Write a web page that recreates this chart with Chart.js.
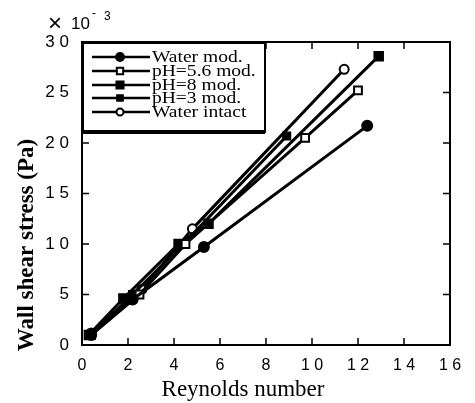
<!DOCTYPE html>
<html>
<head>
<meta charset="utf-8">
<script src="https://cdn.jsdelivr.net/npm/chart.js@4.4.1/dist/chart.umd.min.js"></script>
<style>
  body { margin: 0; background: #fff; }
  #wrap { width: 475px; height: 403px; }
</style>
</head>
<body>
<div id="wrap"><canvas id="shearChart"></canvas></div>
<script>
// series names (legend order)
var seriesNames = ['Water mod.', 'pH=5.6 mod.', 'pH=8 mod.', 'pH=3 mod.', 'Water intact'];

// Reynolds number / wall shear stress (x10^-3 Pa)
var waterModX   = [0.4, 2.2, 5.3, 12.4];
var waterModY   = [0.10, 0.45, 0.97, 2.17];
var ph56X       = [0.4, 2.5, 4.5, 9.7, 12.0];
var ph56Y       = [0.10, 0.50, 1.00, 2.05, 2.52];
var ph8X        = [0.3, 1.8, 4.2, 5.5, 12.9];
var ph8Y        = [0.10, 0.46, 1.00, 1.20, 2.86];
var ph3X        = [0.4, 2.2, 4.4, 8.9];
var ph3Y        = [0.10, 0.50, 1.00, 2.07];
var waterIntX   = [0.4, 2.6, 4.8, 11.4];
var waterIntY   = [0.12, 0.55, 1.15, 2.73];

// tick labels as printed
var xTickLabels = ['0', '2', '4', '6', '8', '1 0', '1 2', '1 4', '1 6'];
var yTickLabels = ['0', '5', '1 0', '1 5', '2 0', '2 5', '3 0'];

var xTitle = 'Reynolds number';
var yTitle = 'Wall shear stress (Pa)';

function pts(xs, ys) {
  return xs.map(function (x, i) { return { x: x, y: ys[i] }; });
}

var markers = [
  { style: 'circle', fill: '#000', r: 5 },
  { style: 'rect', fill: '#fff', r: 5.5 },
  { style: 'rect', fill: '#000', r: 6 },
  { style: 'rect', fill: '#000', r: 5 },
  { style: 'circle', fill: '#fff', r: 4.5 }
];

var seriesData = [
  pts(waterModX, waterModY),
  pts(ph56X, ph56Y),
  pts(ph8X, ph8Y),
  pts(ph3X, ph3Y),
  pts(waterIntX, waterIntY)
];

var datasets = seriesNames.map(function (name, i) {
  return {
    label: name,
    data: seriesData[i],
    borderColor: '#000',
    borderWidth: 3,
    pointStyle: markers[i].style,
    pointRadius: markers[i].r,
    pointBackgroundColor: markers[i].fill,
    pointBorderColor: '#000',
    pointBorderWidth: 2,
    tension: 0
  };
});

var SANS = '"Liberation Sans", Arial, sans-serif';
var SERIF = '"Liberation Serif", "Times New Roman", serif';

// frame, inward ticks, titles, exponent and legend box
var framePlugin = {
  id: 'frame',
  afterDraw: function (chart) {
    var c = chart.ctx, a = chart.chartArea;
    var xs = chart.scales.x, ys = chart.scales.y;
    c.save();
    c.strokeStyle = '#000';
    c.lineWidth = 2;
    c.strokeRect(a.left, a.top, a.right - a.left, a.bottom - a.top);
    c.lineWidth = 1.5;
    c.beginPath();
    xs.ticks.forEach(function (t) {
      var px = xs.getPixelForValue(t.value);
      c.moveTo(px, a.bottom); c.lineTo(px, a.bottom - 7);
      c.moveTo(px, a.top); c.lineTo(px, a.top + 7);
    });
    ys.ticks.forEach(function (t) {
      var py = ys.getPixelForValue(t.value);
      c.moveTo(a.left, py); c.lineTo(a.left + 7, py);
      c.moveTo(a.right, py); c.lineTo(a.right - 7, py);
    });
    c.stroke();

    c.fillStyle = '#000';
    // axis titles
    c.textAlign = 'center';
    c.textBaseline = 'alphabetic';
    c.font = '23px ' + SERIF;
    c.fillText(xTitle, 243, 396);
    c.save();
    c.translate(33, 245);
    c.rotate(-Math.PI / 2);
    c.font = 'bold 23px ' + SERIF;
    c.fillText(yTitle, 0, 0);
    c.restore();

    // x 10^-3
    c.textAlign = 'left';
    c.font = '24px ' + SANS;
    c.fillText('\u00d7', 48, 31);
    c.font = '17px ' + SANS;
    c.fillText('10', 71, 29);
    c.font = '12px ' + SANS;
    c.fillText('-', 92, 17);
    c.fillText('3', 104, 20);

    // legend
    var lx = a.left + 1, ly = a.top + 1, lw = 182, lh = 89;
    c.fillStyle = '#fff';
    c.fillRect(lx, ly, lw, lh);
    c.lineWidth = 2;
    c.strokeStyle = '#000';
    c.strokeRect(lx, ly, lw, lh);
    c.lineWidth = 4;
    c.beginPath();
    c.moveTo(lx, ly + lh); c.lineTo(lx + lw, ly + lh);
    c.stroke();
    var rows = [57, 71, 85, 98, 112];
    chart.data.datasets.forEach(function (ds, i) {
      var y = rows[i];
      c.lineWidth = 2.5;
      c.strokeStyle = '#000';
      c.beginPath();
      c.moveTo(92, y); c.lineTo(150, y);
      c.stroke();
      c.fillStyle = ds.pointBackgroundColor;
      c.lineWidth = 2;
      Chart.helpers.drawPoint(c, {
        pointStyle: ds.pointStyle,
        radius: ds.pointRadius - 1,
        borderWidth: 2,
        rotation: 0
      }, 120, y);
      c.fillStyle = '#000';
      c.font = '16px ' + SERIF;
      c.textBaseline = 'middle';
      c.save();
      c.translate(152, y + 1);
      c.scale(1.22, 1);
      c.fillText(ds.label, 0, 0);
      c.restore();
    });
    c.restore();
  }
};

var ctx = document.getElementById('shearChart');
new Chart(ctx, {
  type: 'line',
  data: { datasets: datasets },
  options: {
    responsive: true,
    maintainAspectRatio: false,
    animation: false,
    layout: { padding: { top: 42, right: 25, left: 0, bottom: 0 } },
    plugins: { legend: { display: false }, tooltip: { enabled: false } },
    scales: {
      x: {
        type: 'linear',
        min: 0, max: 16,
        afterFit: function (s) { s.height = 58; },
        ticks: {
          stepSize: 2,
          color: '#000',
          font: { family: SANS, size: 16 },
          padding: 3,
          maxRotation: 0,
          callback: function (v) { return xTickLabels[Math.round(v / 2)]; }
        },
        grid: { display: false },
        border: { display: false }
      },
      y: {
        type: 'linear',
        min: 0, max: 3,
        afterFit: function (s) { s.width = 82; },
        ticks: {
          stepSize: 0.5,
          color: '#000',
          font: { family: SANS, size: 17 },
          padding: 5,
          callback: function (v) { return yTickLabels[Math.round(v * 2)]; }
        },
        grid: { display: false },
        border: { display: false }
      }
    }
  },
  plugins: [framePlugin]
});
</script>
</body>
</html>
